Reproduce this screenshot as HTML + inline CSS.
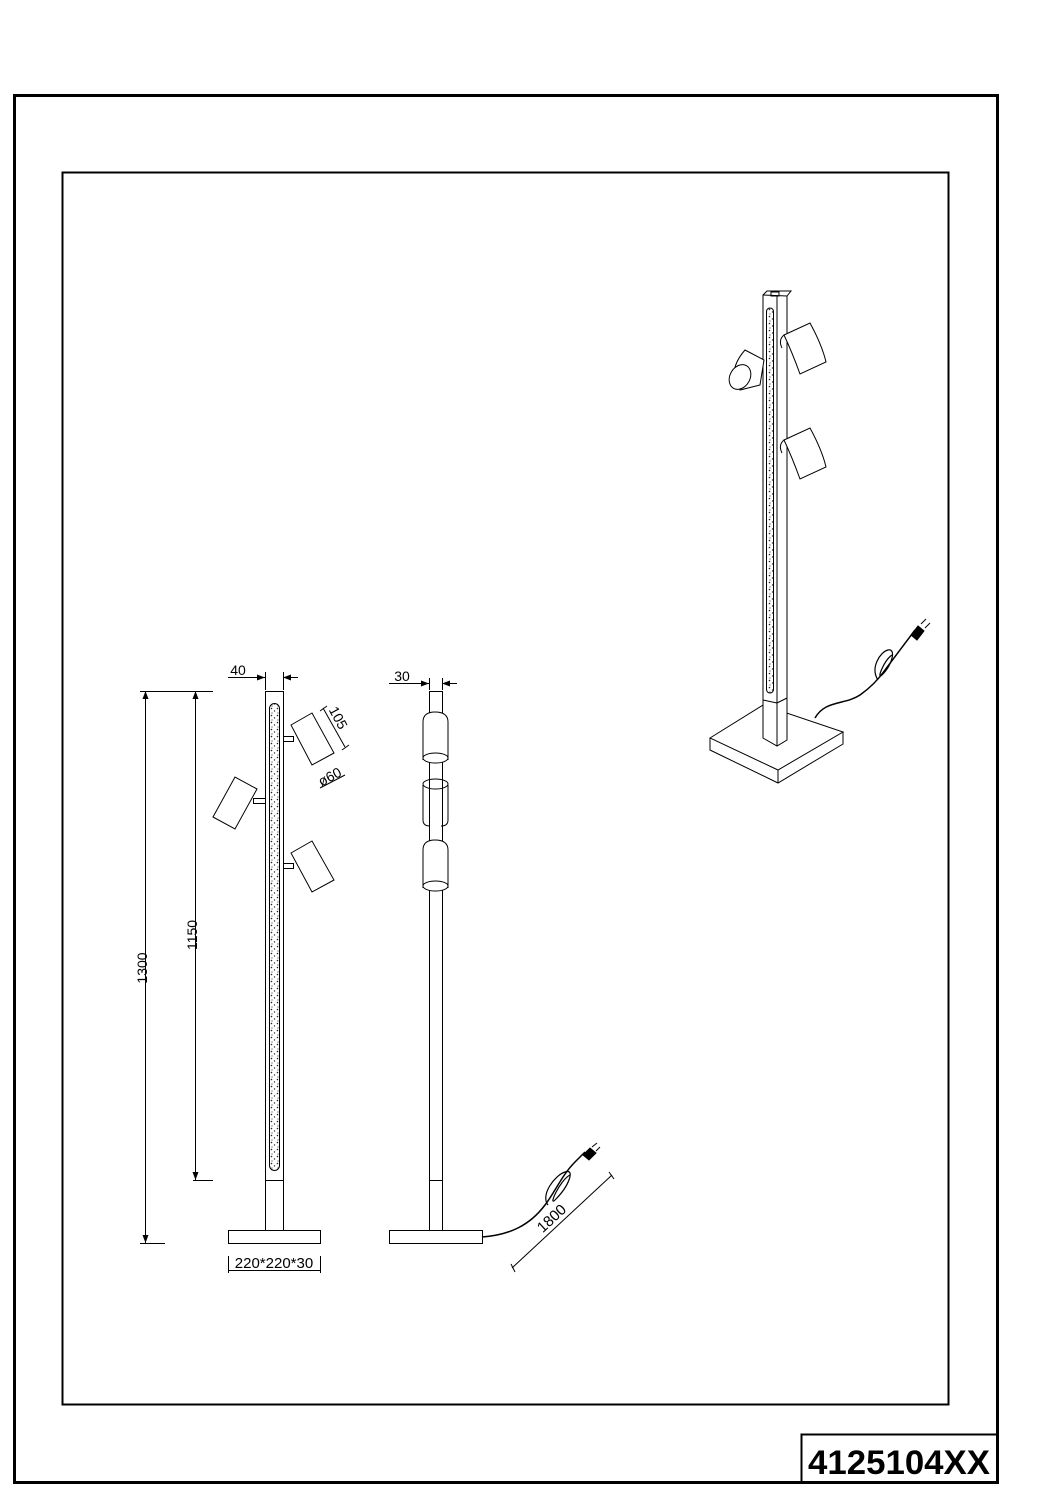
<!DOCTYPE html>
<html><head><meta charset="utf-8"><style>
html,body{margin:0;padding:0;background:#fff;}
svg{display:block;}
text{font-family:"Liberation Sans",sans-serif;}
</style></head><body>
<svg width="1060" height="1500" viewBox="0 0 1060 1500" xmlns="http://www.w3.org/2000/svg">
<defs>
<pattern id="dots" width="6" height="7" patternUnits="userSpaceOnUse">
<rect width="6" height="7" fill="#fff"/>
<circle cx="1.5" cy="1.5" r="0.8" fill="#222"/><circle cx="4.5" cy="4" r="0.7" fill="#333"/><circle cx="2" cy="6" r="0.6" fill="#444"/>
</pattern>
<marker id="ar" markerWidth="8" markerHeight="6" refX="8" refY="3" orient="auto" markerUnits="userSpaceOnUse"><path d="M0,0 L8,3 L0,6 z" fill="#000"/></marker>
</defs>
<rect x="14.5" y="95.5" width="983" height="1387" fill="none" stroke="#000" stroke-width="3"/>
<rect x="62.5" y="172.5" width="886" height="1232" fill="none" stroke="#000" stroke-width="2"/>
<rect x="801.5" y="1434.5" width="196" height="48" fill="none" stroke="#000" stroke-width="2"/>
<text x="899" y="1474" font-size="34" font-weight="bold" text-anchor="middle" textLength="182" lengthAdjust="spacingAndGlyphs">4125104XX</text>

<g fill="none" stroke="#000" stroke-width="1">
<rect x="265.5" y="691.5" width="18" height="539"/>
<rect x="269.5" y="703.5" width="10" height="467" rx="5" fill="url(#dots)"/>
<line x1="265" y1="1180.5" x2="283" y2="1180.5"/>
<rect x="228.5" y="1230.5" width="92" height="13"/>
<polygon points="291,725 312,713 334,753 312,765" fill="#fff"/>
<rect x="283.5" y="736.5" width="10" height="5"/>
<polygon points="213,817 235,777 257,789 235,829" fill="#fff"/>
<rect x="253.5" y="798.5" width="12" height="5"/>
<polygon points="291,853 312,841 334,880 312,892" fill="#fff"/>
<rect x="283.5" y="863.5" width="10" height="5"/>
<line x1="323" y1="708" x2="345" y2="747"/>
<line x1="320" y1="711" x2="327" y2="706"/><line x1="342" y1="750" x2="349" y2="745"/>
<line x1="320" y1="788" x2="345" y2="775"/>
<line x1="228" y1="677.5" x2="265" y2="677.5" marker-end="url(#ar)"/>
<line x1="298" y1="677.5" x2="283" y2="677.5" marker-end="url(#ar)"/>
<line x1="265.5" y1="672" x2="265.5" y2="690"/><line x1="283.5" y1="672" x2="283.5" y2="690"/>
<line x1="140" y1="691.5" x2="213" y2="691.5"/>
<line x1="140" y1="1243.5" x2="165" y2="1243.5"/>
<line x1="193" y1="1180.5" x2="213" y2="1180.5"/>
<line x1="145.5" y1="1243" x2="145.5" y2="691" marker-end="url(#ar)"/>
<line x1="145.5" y1="691" x2="145.5" y2="1243" marker-end="url(#ar)"/>
<line x1="195.5" y1="1180" x2="195.5" y2="691" marker-end="url(#ar)"/>
<line x1="195.5" y1="691" x2="195.5" y2="1180" marker-end="url(#ar)"/>
<line x1="228" y1="1270.5" x2="320" y2="1270.5"/>
<line x1="228.5" y1="1256" x2="228.5" y2="1273"/><line x1="320.5" y1="1256" x2="320.5" y2="1273"/>

<rect x="429.5" y="691.5" width="13" height="539"/>
<line x1="429" y1="1180.5" x2="442" y2="1180.5"/>
<rect x="389.5" y="1230.5" width="93" height="13"/>
<path d="M423,760 V722 Q423,712 435,712 Q448,712 448,722 V760" fill="#fff"/>
<ellipse cx="435.5" cy="758" rx="12.5" ry="5" fill="#fff"/>
<path d="M423,785 V820 Q423,826 430,826 M448,785 V820 Q448,826 441,826"/>
<ellipse cx="435.5" cy="784" rx="12.5" ry="5"/>
<path d="M423,888 V850 Q423,840 435,840 Q448,840 448,850 V888" fill="#fff"/>
<ellipse cx="435.5" cy="886" rx="12.5" ry="5" fill="#fff"/>
<line x1="389" y1="683.5" x2="429" y2="683.5" marker-end="url(#ar)"/>
<line x1="457" y1="683.5" x2="442" y2="683.5" marker-end="url(#ar)"/>
<line x1="429.5" y1="678" x2="429.5" y2="690"/><line x1="442.5" y1="678" x2="442.5" y2="690"/>
<path d="M482,1237 C510,1235 530,1225 545,1205 C555,1192 562,1175 575,1162 L585,1152" stroke-width="1.5"/>
<path d="M548,1205 C540,1195 555,1175 565,1172 C575,1168 570,1185 555,1200 C548,1207 560,1180 570,1175" stroke-width="1.2"/>
<path d="M583,1155 L590,1148 L596,1153 L589,1160 z" fill="#000"/>
<line x1="592" y1="1147" x2="597" y2="1143"/><line x1="596" y1="1151" x2="600" y2="1147"/>
<line x1="512" y1="1268" x2="612" y2="1175"/>
<line x1="511" y1="1264" x2="515" y2="1272"/><line x1="609" y1="1172" x2="614" y2="1179"/>

<polygon points="710,738 763,705 843,732 778,770" fill="#fff"/>
<polyline points="710,738 710,750 778,783 843,744 843,732"/>
<line x1="778" y1="770" x2="778" y2="783"/>
<polygon points="763,295 767,291 791,291 787,296 787,740 777,746 763,738" fill="#fff"/>
<line x1="777" y1="296" x2="777" y2="746"/>
<line x1="763" y1="295" x2="787" y2="296"/>
<rect x="771" y="292" width="8" height="4"/>
<rect x="766.5" y="308" width="7" height="385" rx="3.5" fill="url(#dots)"/>
<line x1="763" y1="700" x2="777" y2="703"/><line x1="777" y1="703" x2="787" y2="698"/>
<path d="M784,335 L810,323 Q822,345 826,362 L800,374 Q792,352 784,335 z" fill="#fff"/>
<path d="M784,335 Q778,340 782,348"/>
<path d="M784,440 L810,428 Q822,450 826,467 L800,479 Q792,457 784,440 z" fill="#fff"/>
<path d="M784,440 Q778,445 782,453"/>
<path d="M745,350 L764,360 L760,385 L740,390 Q726,372 745,350 z" fill="#fff"/>
<ellipse cx="740" cy="377" rx="13" ry="10" transform="rotate(-60 740 377)" fill="#fff"/>
<path d="M815,718 C825,700 845,705 860,695 C870,688 878,680 885,670 L915,630" stroke-width="1.5"/>
<path d="M878,680 C870,668 880,652 888,650 C896,648 893,664 882,675 C876,681 884,660 892,655" stroke-width="1.2"/>
<path d="M911,635 L918,626 L924,631 L917,640 z" fill="#000"/>
<line x1="921" y1="624" x2="926" y2="619"/><line x1="925" y1="628" x2="930" y2="623"/>
</g>
<g font-size="14" fill="#000">
<text x="238" y="675" text-anchor="middle">40</text>
<text x="402" y="681" text-anchor="middle">30</text>
<text transform="translate(147,968) rotate(-90)" text-anchor="middle">1300</text>
<text transform="translate(197,935) rotate(-90)" text-anchor="middle">1150</text>
<text transform="translate(334,720) rotate(62)" text-anchor="middle">105</text>
<text transform="translate(332,781) rotate(-28)" text-anchor="middle">ø60</text>
<text x="274" y="1268" text-anchor="middle" font-size="15">220*220*30</text>
<text transform="translate(555,1222) rotate(-43)" text-anchor="middle" font-size="15">1800</text>
</g>
</svg>
</body></html>
